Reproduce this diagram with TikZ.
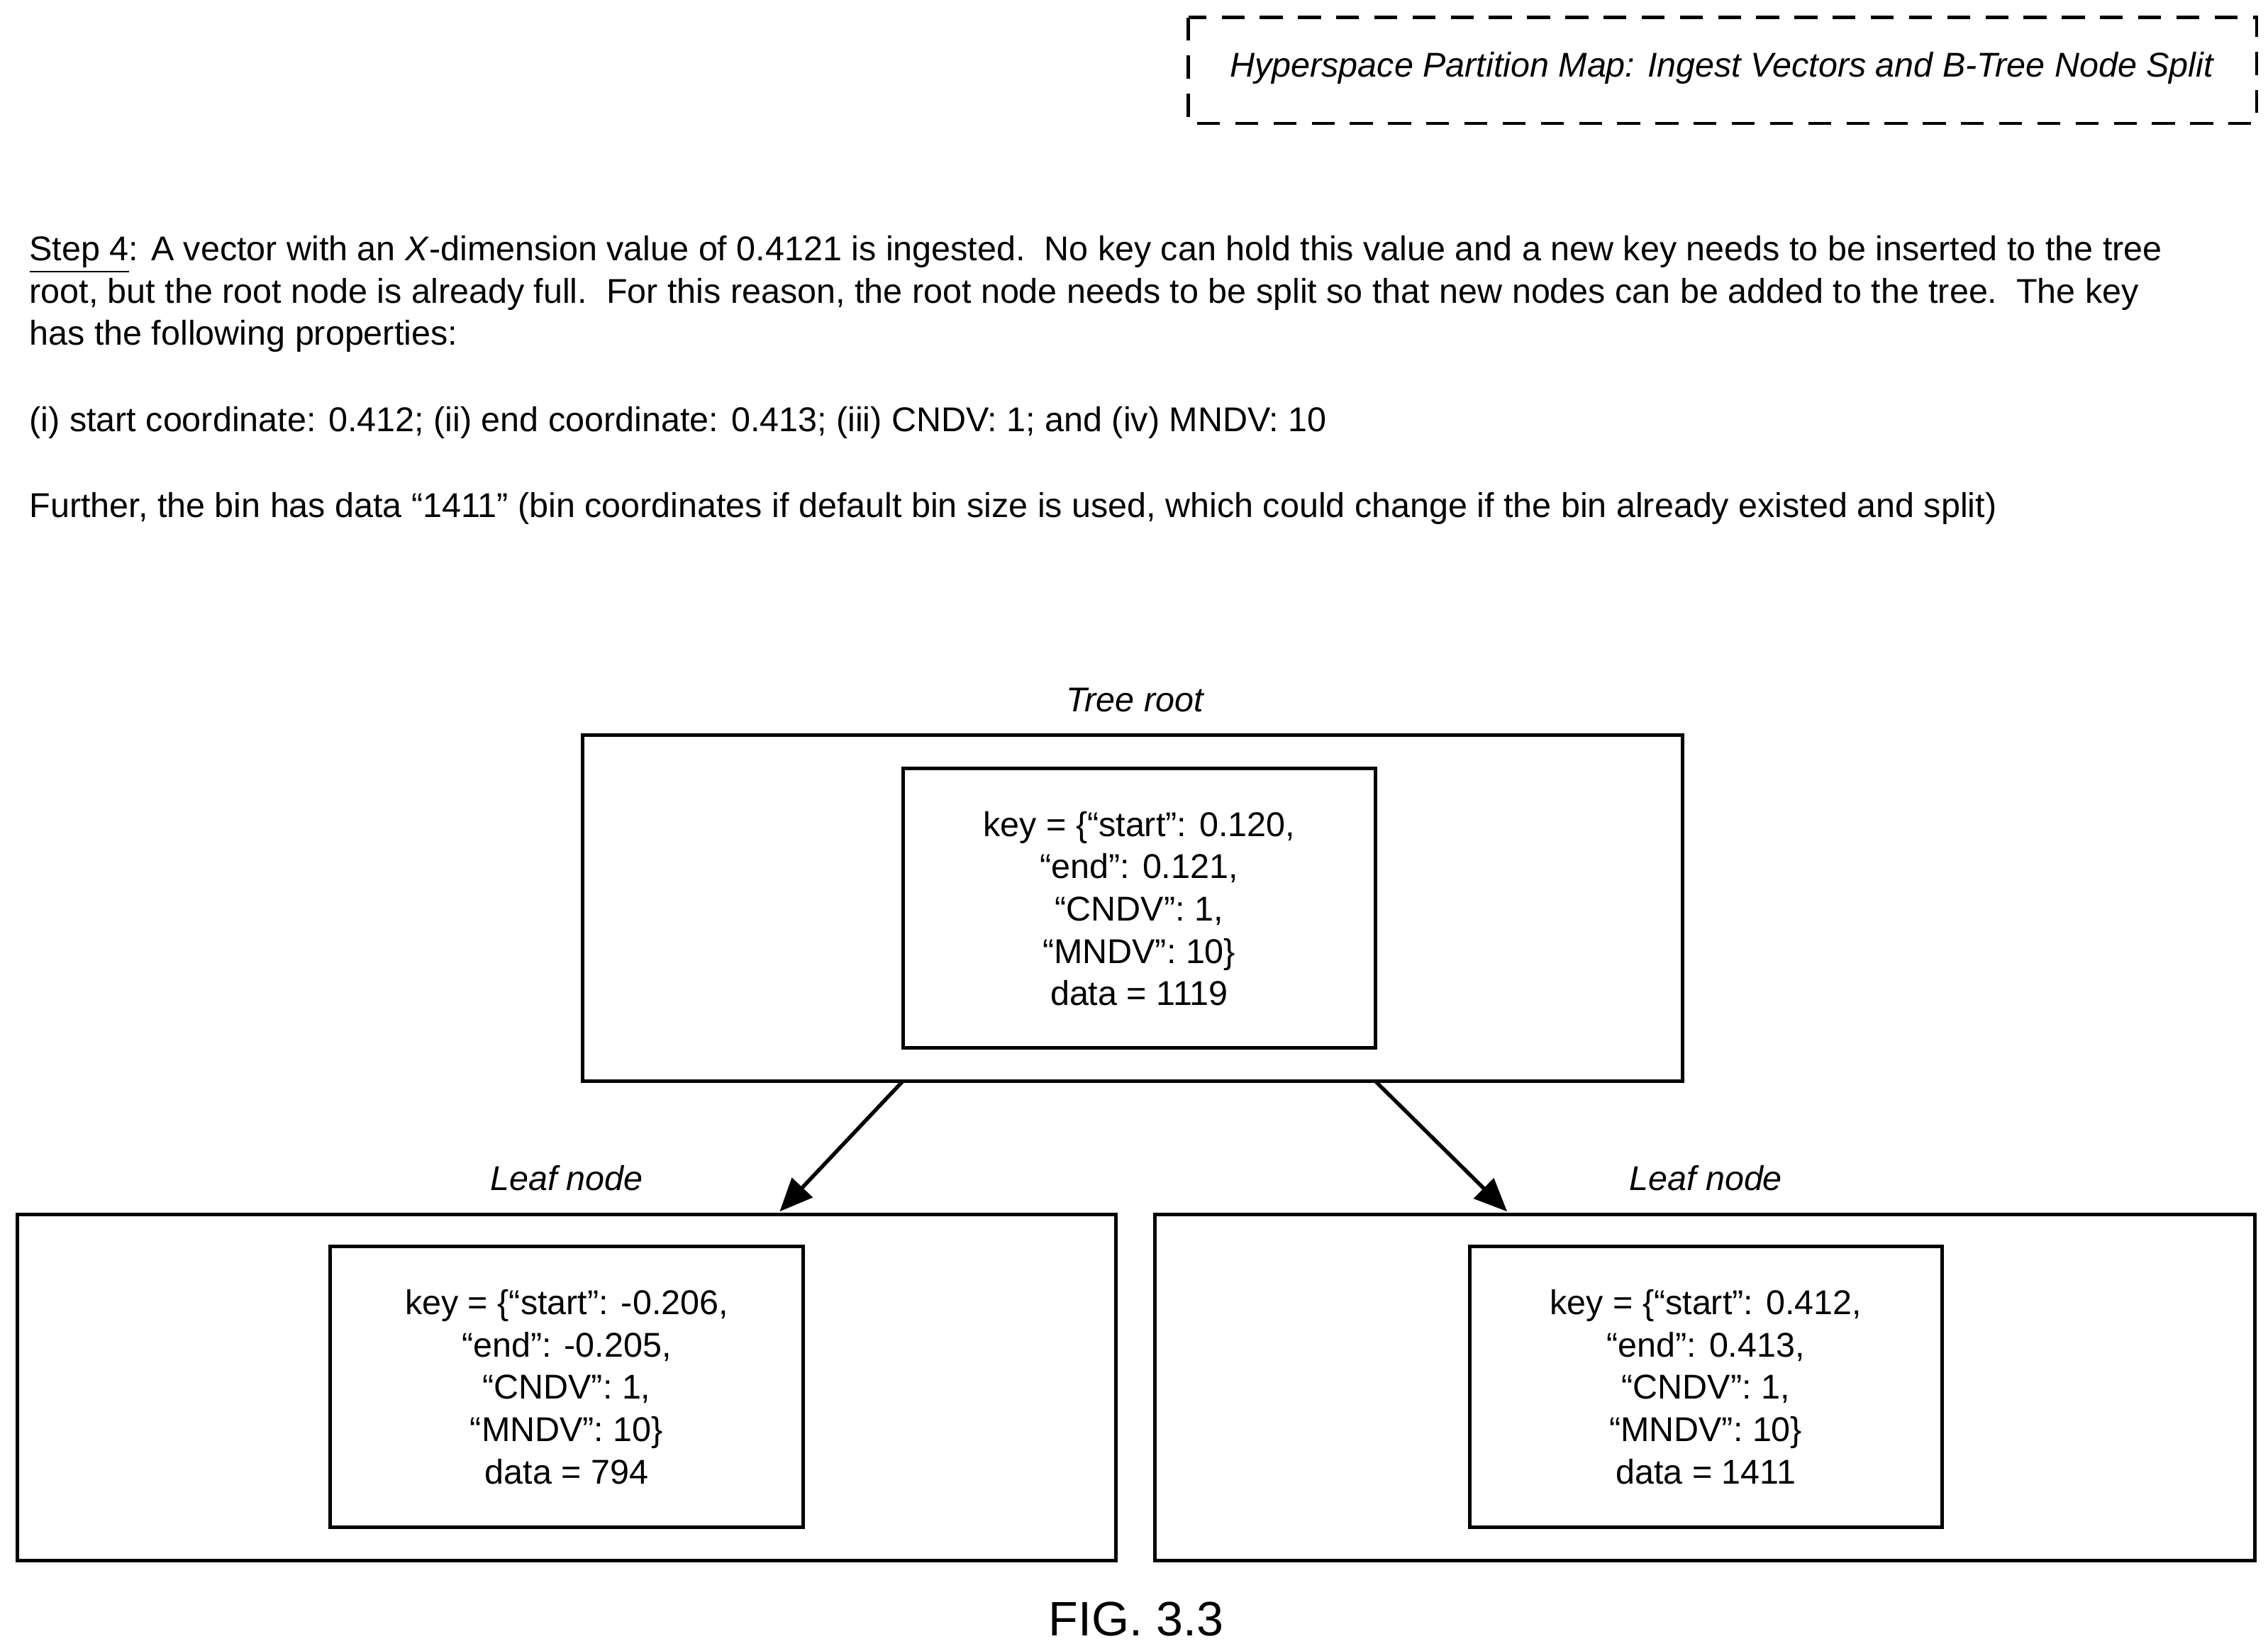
\documentclass[tikz,border=0pt]{standalone}
\usepackage{fontspec}
\setmainfont{Liberation Sans}
\usetikzlibrary{arrows.meta}
\begin{document}
\begin{tikzpicture}[x=0.02cm,y=-0.02cm,
  box/.style={draw,line width=1.4pt},
  txt/.style={font=\fontsize{13.5}{16.4}\selectfont,inner sep=0pt},
  para/.style={txt,anchor=base west},
  key/.style={txt,align=center,font=\fontsize{13.5}{16.6}\selectfont},
  lab/.style={txt,font=\fontsize{13.5}{16}\selectfont\itshape},
  arr/.style={line width=1.5pt,-{Triangle[length=13pt,width=11pt]}}]
\useasboundingbox (0,0) rectangle (1565,1139);
% title box
\draw[line width=1.2pt,dash pattern=on 9pt off 6pt] (820,12) rectangle (1557,85);
\node[lab] (title) at (1188,47) {Hyperspace Partition Map: Ingest Vectors and B-Tree Node Split};
% paragraph
\node[para] (p1) at (20,180) {\underline{Step 4}: A vector with an \textit{X}-dimension value of 0.4121 is ingested.\ \ No key can hold this value and a new key needs to be inserted to the tree};
\node[para] (p2) at (20,209) {root, but the root node is already full.\ \ For this reason, the root node needs to be split so that new nodes can be added to the tree.\ \ The key};
\node[para] (p3) at (20,238) {has the following properties:};
\node[para] (p4) at (20,298) {(i) start coordinate: 0.412; (ii) end coordinate: 0.413; (iii) CNDV: 1; and (iv) MNDV: 10};
\node[para] (p5) at (20,357) {Further, the bin has data “1411” (bin coordinates if default bin size is used, which could change if the bin already existed and split)};
% tree root
\draw[box] (402,507) rectangle (1161,746);
\draw[box] (623,530) rectangle (949,723);
\node[lab] (lr) at (783,483) {Tree root};
\node[key] (kr) at (786,627) {key = \{“start”: 0.120,\\“end”: 0.121,\\“CNDV”: 1,\\“MNDV”: 10\}\\data = 1119};
% left leaf
\draw[box] (12,838) rectangle (770,1077);
\draw[box] (228,860) rectangle (554,1054);
\node[lab] (ll) at (391,813) {Leaf node};
\node[key] (kl) at (391,957) {key = \{“start”: -0.206,\\“end”: -0.205,\\“CNDV”: 1,\\“MNDV”: 10\}\\data = 794};
% right leaf
\draw[box] (797,838) rectangle (1556,1077);
\draw[box] (1014,860) rectangle (1340,1054);
\node[lab] (lrr) at (1177,813) {Leaf node};
\node[key] (kk) at (1177,957) {key = \{“start”: 0.412,\\“end”: 0.413,\\“CNDV”: 1,\\“MNDV”: 10\}\\data = 1411};
\coordinate (a1) at (623,746); \coordinate (b1) at (538,836);
\coordinate (a2) at (949,746); \coordinate (b2) at (1040,836);
\draw[arr] (a1) -- (b1);
\draw[arr] (a2) -- (b2);
\node[txt,font=\fontsize{19}{22}\selectfont] (fig) at (784,1117) {FIG. 3.3};
\end{tikzpicture}
\end{document}
